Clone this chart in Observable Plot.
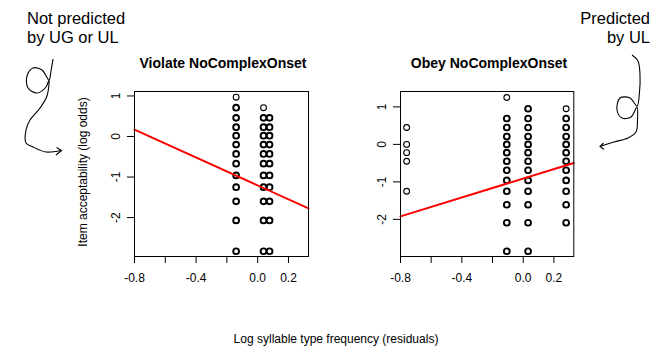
<!DOCTYPE html>
<html><head><meta charset="utf-8">
<script src="https://cdn.jsdelivr.net/npm/d3@7"></script>
<script src="https://cdn.jsdelivr.net/npm/@observablehq/plot@0.6"></script>
<style>
body{margin:0;background:#fff;}
#wrap{position:relative;width:668px;height:350px;overflow:hidden;background:#fff;font-family:"Liberation Sans",Arial,sans-serif;}
#wrap > svg, #wrap > figure{position:absolute;top:0;margin:0;}
</style></head><body><div id="wrap"></div>
<script>
// ---------- data ----------
const panelTitles = ["Violate NoComplexOnset", "Obey NoComplexOnset"];
const xTicks = [-0.8, -0.6, -0.4, -0.2, 0.0, 0.2];
const xTickLabels = [-0.8, -0.4, 0.0, 0.2];
const yTicks = [1, 0, -1, -2];
const yLabel = "Item acceptability (log odds)";
const xLabel = "Log syllable type frequency (residuals)";
const noteLeft = ["Not predicted", "by UG or UL"];
const noteRight = ["Predicted", "by UL"];

// Violate NoComplexOnset: columns of residual frequency, with acceptability values
const violateColX = [-0.14, 0.038, 0.077];
const violateColY = [
  [0.97, 0.71, 0.46, 0.23, 0.02, -0.20, -0.43, -0.67, -0.96, -1.25, -1.60, -2.07, -2.83],
  [0.71, 0.46, 0.23, 0.02, -0.20, -0.43, -0.67, -0.96, -1.25, -1.60, -2.07, -2.83],
  [0.46, 0.23, 0.02, -0.20, -0.43, -0.67, -0.96, -1.25, -1.60, -2.07, -2.83]
];
// overplot count per point (1 = single item, 2 = several)
const violateColN = [
  [1, 2, 2, 2, 2, 2, 2, 2, 2, 2, 2, 2, 2],
  [1, 2, 2, 2, 2, 2, 2, 2, 2, 2, 2, 2],
  [2, 2, 2, 2, 2, 2, 2, 2, 2, 2, 2]
];
const violateFit = {intercept: -1.206, slope: -1.72};

// Obey NoComplexOnset
const obeyColX = [-0.76, -0.107, 0.032, 0.28];
const obeyColY = [
  [0.45, 0.0, -0.22, -0.45, -1.25],
  [1.25, 0.69, 0.45, 0.21, 0.0, -0.22, -0.45, -0.69, -0.96, -1.25, -1.61, -2.09, -2.85],
  [0.95, 0.69, 0.45, 0.21, 0.0, -0.22, -0.45, -0.69, -0.96, -1.25, -1.61, -2.09, -2.85],
  [0.95, 0.69, 0.45, 0.21, 0.0, -0.22, -0.45, -0.69, -0.96, -1.25, -1.61, -2.09]
];
const obeyColN = [
  [1, 1, 1, 1, 1],
  [1, 2, 2, 2, 2, 2, 2, 2, 2, 2, 2, 2, 2],
  [2, 2, 2, 2, 2, 2, 2, 2, 2, 2, 2, 2, 2],
  [1, 2, 2, 2, 2, 2, 2, 2, 2, 2, 2, 2]
];
const obeyFit = {intercept: -0.912, slope: 1.26};

// ---------- build ----------
const FONT = '"Liberation Sans", Arial, sans-serif';
const xDomain = [-0.8, 0.33];

function toRows(colX, colY, colN) {
  const rows = [];
  colX.forEach((x, i) => colY[i].forEach((y, j) => rows.push({x, y, n: colN[i][j]})));
  return rows;
}

function panel(rows, fit, yDomain, left, marginLeft, marginRight) {
  const fitLine = xDomain.map(x => ({x, y: fit.intercept + fit.slope * x}));
  const p = Plot.plot({
    width: 334, height: 300,
    marginLeft, marginRight, marginTop: 91, marginBottom: 44,
    x: {domain: xDomain},
    y: {domain: yDomain},
    style: {fontFamily: FONT, fontSize: "12px", color: "#000", background: "transparent", overflow: "visible"},
    marks: [
      Plot.axisX({ticks: xTicks, tickSize: 7, tickPadding: 10, label: null, fontSize: 12,
        tickFormat: d => xTickLabels.some(v => Math.abs(v - d) < 1e-9) ? d.toFixed(1) : ""}),
      Plot.axisY({ticks: yTicks, tickSize: 7, tickPadding: 8, tickRotate: -90, label: null, fontSize: 12,
        tickFormat: d => String(d)}),
      Plot.dot(rows, {x: "x", y: "y", r: 2.9, stroke: "#000", fill: "none",
        strokeWidth: d => d.n > 1 ? 1.9 : 1.1}),
      Plot.line(fitLine, {x: "x", y: "y", stroke: "#ff0000", strokeWidth: 2}),
      Plot.frame({stroke: "#000", strokeWidth: 1})
    ]
  });
  p.style.left = left + "px";
  return p;
}

const wrap = document.getElementById("wrap");
wrap.appendChild(panel(toRows(violateColX, violateColY, violateColN), violateFit, [-2.96, 1.11], 0, 134, 26));
wrap.appendChild(panel(toRows(obeyColX, obeyColY, obeyColN), obeyFit, [-2.99, 1.41], 334, 66, 94.7));

// ---------- overlay: titles, labels, notes, hand-drawn arrows ----------
const ov = d3.create("svg").attr("width", 668).attr("height", 350)
  .style("position", "absolute").style("left", "0px").style("top", "0px")
  .attr("font-family", FONT).attr("fill", "#000");

ov.append("text").attr("x", 223).attr("y", 67.5).attr("text-anchor", "middle")
  .attr("font-size", 14).attr("font-weight", "bold").text(panelTitles[0]);
ov.append("text").attr("x", 489).attr("y", 67.5).attr("text-anchor", "middle")
  .attr("font-size", 14).attr("font-weight", "bold").text(panelTitles[1]);
ov.append("text").attr("transform", "translate(87,172) rotate(-90)").attr("text-anchor", "middle")
  .attr("font-size", 12).text(yLabel);
ov.append("text").attr("x", 336).attr("y", 343).attr("text-anchor", "middle")
  .attr("font-size", 12).text(xLabel);
noteLeft.forEach((t, i) => ov.append("text").attr("x", 27).attr("y", 24 + i * 19)
  .attr("font-size", 16.5).text(t));
noteRight.forEach((t, i) => ov.append("text").attr("x", 650).attr("y", 24 + i * 19)
  .attr("text-anchor", "end").attr("font-size", 16.5).text(t));

const squiggle = d3.line().curve(d3.curveCatmullRom.alpha(0.5));
const leftPath = [[53,59],[51,71],[49,80],[42,70],[33,68],[27,76],[28,88],[37,93],[46,87],[49,80],[47,96],[40,108],[30,120],[26,130],[26,143],[33,147],[46,152],[61,150.5]];
const rightPath = [[632,55],[638,61],[640,75],[639.5,92],[637,106],[630,98],[620,98],[617,110],[622,118],[631,117],[637,107],[637.5,120],[636,132],[628,138],[614,142],[600,146.5]];
const g = ov.append("g").attr("fill", "none").attr("stroke", "#000").attr("stroke-width", 1.1);
g.append("path").attr("d", squiggle(leftPath));
g.append("path").attr("d", "M56.5,147.5 L61.5,150.5 L56,155");
g.append("path").attr("d", squiggle(rightPath));
g.append("path").attr("d", "M603.5,143 L600,146.5 L604,149.5");
wrap.appendChild(ov.node());
</script></body></html>
